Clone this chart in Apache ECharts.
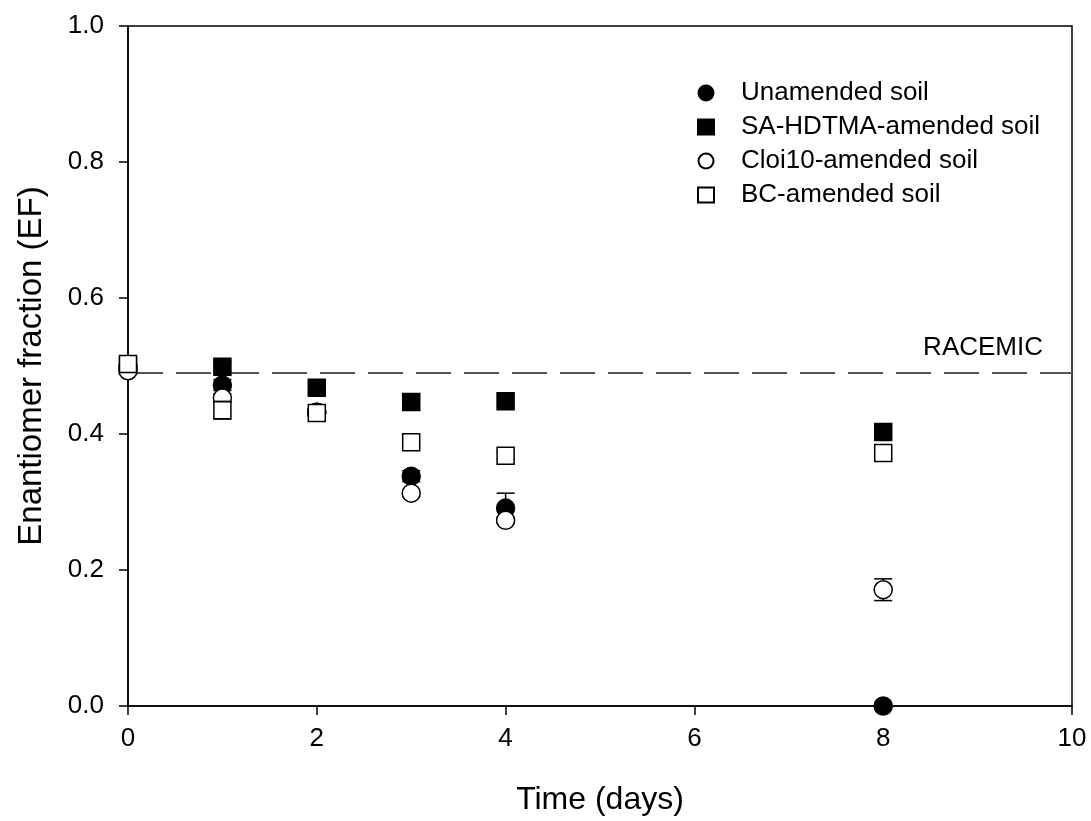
<!DOCTYPE html>
<html><head><meta charset="utf-8">
<script src="https://cdn.jsdelivr.net/npm/echarts@6/dist/echarts.min.js"></script>
<style>html,body{margin:0;padding:0;background:#fff}#c{width:1091px;height:821px}</style>
</head><body><div id="c"></div>
<script>
const days = [0, 1, 2, 3, 4, 8];
const seriesNames = ['Unamended soil', 'SA-HDTMA-amended soil', 'Cloi10-amended soil', 'BC-amended soil'];
const unamended = [0.500, 0.472, 0.432, 0.338, 0.291, 0.000];
const unamendedErr = [0.005, 0.008, 0.005, 0.008, 0.022, 0.003];
const sahdtma = [0.500, 0.499, 0.468, 0.447, 0.448, 0.403];
const sahdtmaErr = [0.005, 0.007, 0.006, 0.012, 0.007, 0.008];
const cloi10 = [0.493, 0.453, 0.432, 0.313, 0.273, 0.171];
const cloi10Err = [0.005, 0.006, 0.005, 0.005, 0.004, 0.016];
const bc = [0.503, 0.435, 0.431, 0.388, 0.368, 0.372];
const bcErr = [0.006, 0.013, 0.005, 0.006, 0.005, 0.008];
const racemic = 0.495;
const xTicks = [0, 2, 4, 6, 8, 10];
const yTicks = [0.0, 0.2, 0.4, 0.6, 0.8, 1.0];

const values = [unamended, sahdtma, cloi10, bc];
const errs = [unamendedErr, sahdtmaErr, cloi10Err, bcErr];
const symbols = ['circle', 'rect', 'circle', 'rect'];
const fills = ['#000', '#000', '#fff', '#fff'];
const FONT = 'Liberation Sans, Arial, sans-serif';

const chart = echarts.init(document.getElementById('c'));
const series = [];
values.forEach((vals, i) => {
  const data = days.map((d, j) => [d, vals[j], errs[i][j]]);
  series.push({
    type: 'custom', name: seriesNames[i] + ' err', silent: true, z: 2 + i * 2,
    data: data,
    renderItem: function (params, api) {
      const x = api.value(0), y = api.value(1), e = api.value(2);
      const top = api.coord([x, y + e]);
      const bot = api.coord([x, y - e]);
      const w = 9;
      const st = {stroke: '#000', lineWidth: 1.5};
      return {type: 'group', children: [
        {type: 'line', shape: {x1: top[0], y1: top[1], x2: bot[0], y2: bot[1]}, style: st},
        {type: 'line', shape: {x1: top[0] - w, y1: top[1], x2: top[0] + w, y2: top[1]}, style: st},
        {type: 'line', shape: {x1: bot[0] - w, y1: bot[1], x2: bot[0] + w, y2: bot[1]}, style: st}
      ]};
    }
  });
  series.push({
    type: 'scatter', name: seriesNames[i], z: 3 + i * 2,
    symbol: symbols[i], symbolSize: symbols[i] === 'circle' ? 18 : 17,
    itemStyle: {color: fills[i], borderColor: '#000', borderWidth: 1.5, opacity: 1},
    data: days.map((d, j) => [d, vals[j]]),
    ...(i === 0 ? {markLine: {
      silent: true, symbol: 'none', animation: false,
      lineStyle: {color: '#555', type: [35, 13], width: 2},
      label: {show: false},
      data: [{yAxis: racemic}]
    }} : {})
  });
});

chart.setOption({
  animation: false,
  backgroundColor: '#fff',
  grid: {left: 128, right: 19, top: 26, bottom: 115, show: true, borderColor: '#000', borderWidth: 1.5},
  legend: {
    data: seriesNames.map((n, i) => ({name: n, icon: symbols[i] === 'circle' ? 'circle' : 'rect'})),
    orient: 'vertical', left: 692, top: 75, itemGap: 8, itemWidth: 16, itemHeight: 15,
    selectedMode: false,
    textStyle: {fontFamily: FONT, fontSize: 26, lineHeight: 26, color: '#000', padding: [0, 0, 0, 22]}
  },
  xAxis: {
    type: 'value', min: 0, max: 10, interval: 2,
    name: 'Time (days)', nameLocation: 'middle', nameGap: 78,
    nameTextStyle: {fontFamily: FONT, fontSize: 32, color: '#000'},
    axisLine: {show: true, lineStyle: {color: '#000', width: 1.5}},
    axisTick: {show: true, inside: false, length: 9, lineStyle: {color: '#000', width: 1.5}},
    axisLabel: {fontFamily: FONT, fontSize: 26, color: '#000', margin: 20},
    splitLine: {show: false}
  },
  yAxis: {
    type: 'value', min: 0, max: 1, interval: 0.2,
    name: 'Enantiomer fraction (EF)', nameLocation: 'middle', nameGap: 80,
    nameTextStyle: {fontFamily: FONT, fontSize: 33, color: '#000'},
    axisLine: {show: true, lineStyle: {color: '#000', width: 1.5}},
    axisTick: {show: true, inside: false, length: 9, lineStyle: {color: '#000', width: 1.5}},
    axisLabel: {fontFamily: FONT, fontSize: 26, color: '#000', margin: 24,
      formatter: v => v.toFixed(1)},
    splitLine: {show: false}
  },
  graphic: [{
    type: 'text', right: 48, top: 335,
    style: {text: 'RACEMIC', fontFamily: FONT, fontSize: 26, fill: '#000'}
  }],
  series: series
});
</script></body></html>
